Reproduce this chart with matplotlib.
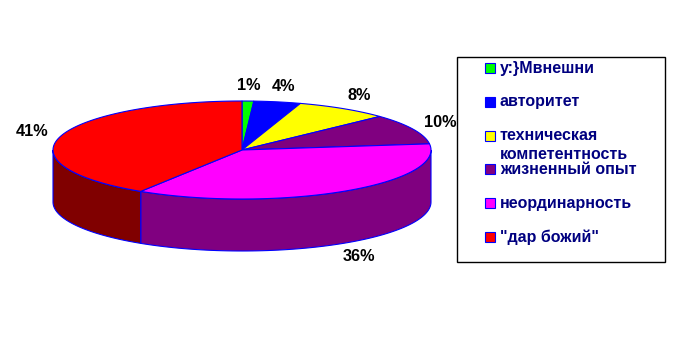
import numpy as np
import matplotlib
matplotlib.use("Agg")
import matplotlib.pyplot as plt
from matplotlib.patches import Polygon, Rectangle

categories = ['у:}Мвнешни', 'авторитет', 'техническая\nкомпетентность',
              'жизненный опыт', 'неординарность', '"дар божий"']
values = [1, 4, 8, 10, 36, 41]
colors = ['#00FF00', '#0000FF', '#FFFF00', '#800080', '#FF00FF', '#FF0000']
pct_labels = ['1%', '4%', '8%', '10%', '36%', '41%']

W, H = 676, 353
fig = plt.figure(figsize=(W / 100, H / 100), dpi=100)
ax = fig.add_axes([0, 0, 1, 1])
ax.set_xlim(0, W)
ax.set_ylim(H, 0)
ax.axis('off')

FONT = 'Liberation Sans'
cx, cy, rx, ry, depth = 242, 150, 189, 49, 52
edge = '#0000FF'


def pt(theta_deg, dz=0.0):
    t = np.radians(theta_deg)
    return cx + rx * np.cos(t), cy - ry * np.sin(t) + dz


def darken(c):
    r, g, b = matplotlib.colors.to_rgb(c)
    return (r * 0.5, g * 0.5, b * 0.5)


total = float(sum(values))
spans = []
start = 90.0
for v in values:
    sweep = 360.0 * v / total
    spans.append((start, start - sweep))
    start -= sweep

# side walls (front part only, angles in [-180, 0])
for (a, b), c in zip(spans, colors):
    hi = min(a, 0.0)
    lo = max(b, -180.0)
    if hi <= lo:
        continue
    th = np.linspace(hi, lo, 80)
    top = [pt(t) for t in th]
    bot = [pt(t, depth) for t in th[::-1]]
    ax.add_patch(Polygon(top + bot, closed=True, facecolor=darken(c),
                         edgecolor=edge, linewidth=0.8, zorder=1))

# top wedges
for (a, b), c in zip(spans, colors):
    th = np.linspace(a, b, max(int(abs(a - b)) + 2, 4))
    poly = [(cx, cy)] + [pt(t) for t in th]
    ax.add_patch(Polygon(poly, closed=True, facecolor=c, edgecolor=edge,
                         linewidth=0.8, zorder=2))

# percentage labels
for (a, b), lab in zip(spans, pct_labels):
    m = np.radians((a + b) / 2)
    x = cx + (rx + 30) * np.cos(m)
    y = cy - (ry + 16) * np.sin(m) + (depth if np.sin(m) < 0 else 0)
    ax.text(x, y, lab, ha='center', va='center', fontsize=11.7,
            fontweight='bold', family=FONT, color='black', zorder=3)

# legend
ax.add_patch(Rectangle((456.5, 56.5), 208, 205, facecolor='white',
                       edgecolor='black', linewidth=1.0, zorder=3))
for i, (name, c) in enumerate(zip(categories, colors)):
    y = 68 + i * 33.8
    ax.add_patch(Rectangle((485, y - 5), 10, 10, facecolor=c,
                           edgecolor=edge, linewidth=0.8, zorder=4))
    for k, line in enumerate(name.split('\n')):
        ax.text(500, y + k * 19, line, ha='left', va='center', fontsize=11.5,
                fontweight='bold', family=FONT, color='#000080', zorder=4)

fig.savefig('out.png', dpi=100)
